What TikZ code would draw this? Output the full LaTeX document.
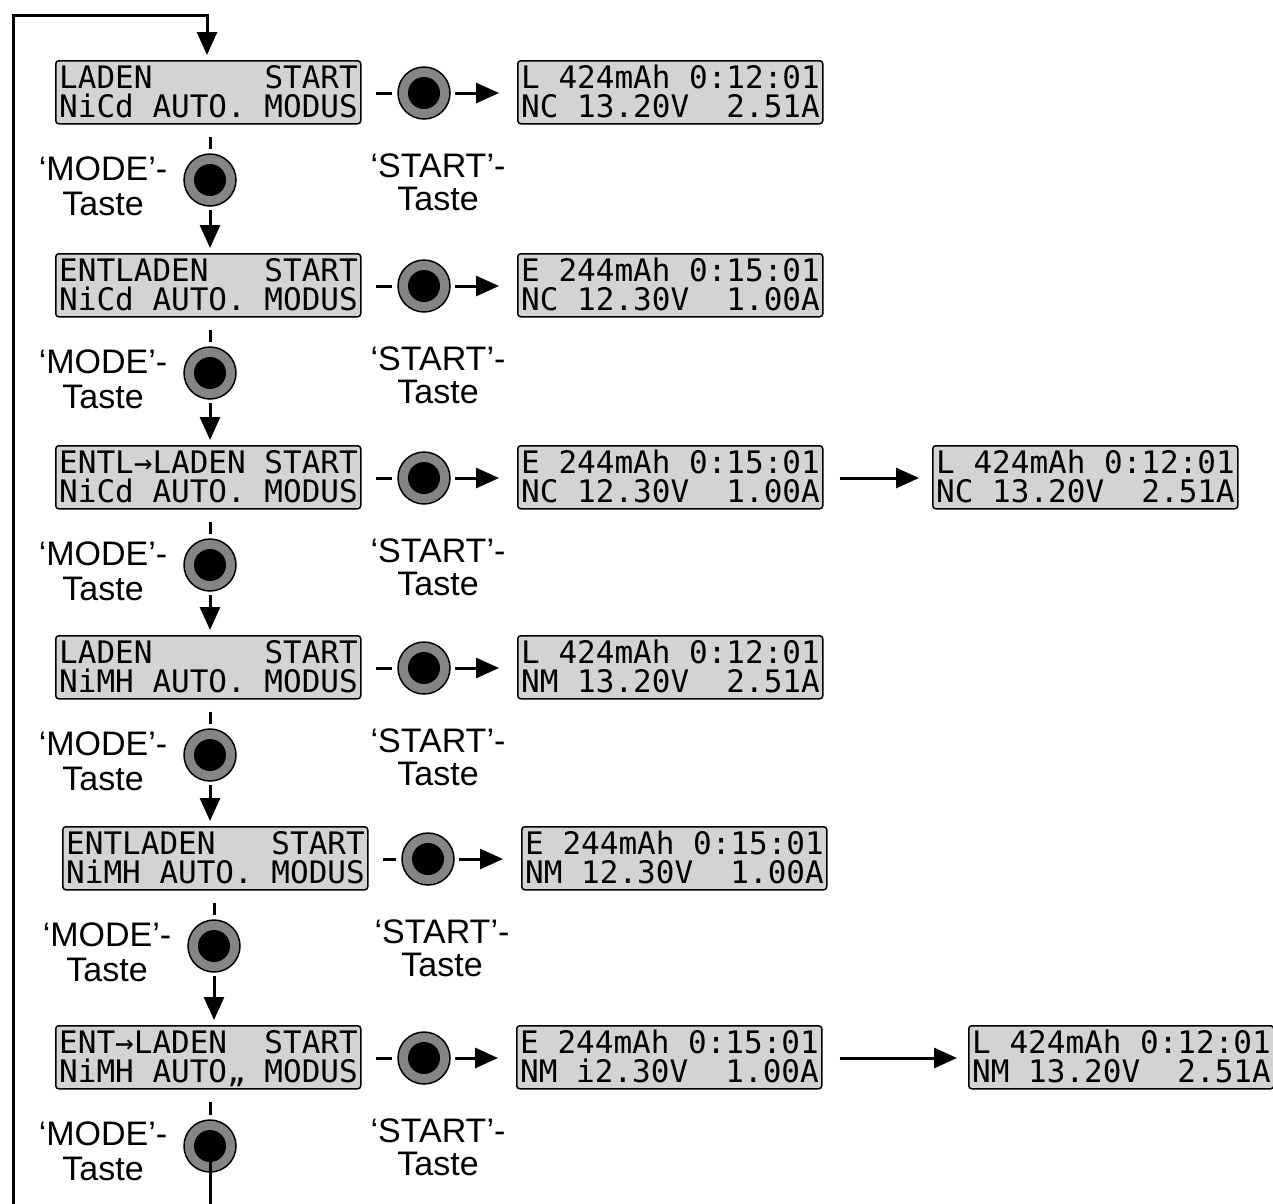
\documentclass[tikz,border=0pt]{standalone}
\usepackage{fontspec}
\setmainfont{Liberation Sans}
\newfontfamily\lcdfont{DejaVu Sans Mono}
\usetikzlibrary{arrows.meta,calc}
\definecolor{lcdgray}{HTML}{D3D3D3}
\definecolor{ringgray}{HTML}{858585}
\tikzset{
  lcd/.style={draw=black, line width=1.5pt, fill=lcdgray, rounded corners=3pt,
    minimum width=305pt, minimum height=63pt, anchor=north west, inner sep=0pt},
  lcdtxt/.style={font=\lcdfont\fontsize{31}{31}\selectfont, anchor=base west, inner sep=0pt},
  btnring/.style={circle, draw=black, line width=1.5pt, fill=ringgray, minimum size=52pt, inner sep=0pt},
  btncore/.style={circle, fill=black, minimum size=32pt, inner sep=0pt},
  conn/.style={line width=3pt},
  arr/.style={line width=3pt, -{Triangle[length=23pt,width=20pt]}},
  lbl/.style={font=\fontsize{34}{34}\selectfont, anchor=base, inner sep=0pt},
}
\newcommand\lcdbox[5]{%
  \node[lcd] (#1) at (#2,#3) {};
  \node[lcdtxt] (#1a) at ($(#1.north west)+(4,28)$) {#4};
  \node[lcdtxt] (#1b) at ($(#1.north west)+(4,57)$) {#5};}
\newcommand\knopf[3]{%
  \node[btnring] (#1) at (#2,#3) {};
  \node[btncore] (#1c) at (#1) {};}
\newcommand\modelbl[3]{%
  \node[lbl] (#1a) at (#2,#3+120) {‘MODE’-};
  \node[lbl] (#1b) at (#2,#3+155) {Taste};}
\newcommand\startlbl[3]{%
  \node[lbl] (#1a) at (#2,#3+117) {‘START’-};
  \node[lbl] (#1b) at (#2,#3+150) {Taste};}
\begin{document}
\begin{tikzpicture}[x=1pt,y=-1pt]
\useasboundingbox[fill=white] (0,0) rectangle (1273,1203);
% row 0
\lcdbox{L0}{55}{60}{LADEN~~~~~~START}{NiCd~AUTO.~MODUS}
\lcdbox{R0}{517}{60}{L~424mAh~0:12:01}{NC~13.20V~~2.51A}
\knopf{S0}{424}{93}
\knopf{M0}{210}{180}
\modelbl{ML0}{103}{60}
\startlbl{SL0}{438}{60}
% row 1
\lcdbox{L1}{55}{253}{ENTLADEN~~~START}{NiCd~AUTO.~MODUS}
\lcdbox{R1}{517}{253}{E~244mAh~0:15:01}{NC~12.30V~~1.00A}
\knopf{S1}{424}{286}
\knopf{M1}{210}{373}
\modelbl{ML1}{103}{253}
\startlbl{SL1}{438}{253}
% row 2
\lcdbox{L2}{55}{445}{ENTL→LADEN~START}{NiCd~AUTO.~MODUS}
\lcdbox{R2}{517}{445}{E~244mAh~0:15:01}{NC~12.30V~~1.00A}
\lcdbox{F2}{932}{445}{L~424mAh~0:12:01}{NC~13.20V~~2.51A}
\knopf{S2}{424}{478}
\knopf{M2}{210}{565}
\modelbl{ML2}{103}{445}
\startlbl{SL2}{438}{445}
% row 3
\lcdbox{L3}{55}{635}{LADEN~~~~~~START}{NiMH~AUTO.~MODUS}
\lcdbox{R3}{517}{635}{L~424mAh~0:12:01}{NM~13.20V~~2.51A}
\knopf{S3}{424}{668}
\knopf{M3}{210}{755}
\modelbl{ML3}{103}{635}
\startlbl{SL3}{438}{635}
% row 4
\lcdbox{L4}{62}{826}{ENTLADEN~~~START}{NiMH~AUTO.~MODUS}
\lcdbox{R4}{521}{826}{E~244mAh~0:15:01}{NM~12.30V~~1.00A}
\knopf{S4}{428}{859}
\knopf{M4}{214}{946}
\modelbl{ML4}{107}{826}
\startlbl{SL4}{442}{826}
% row 5
\lcdbox{L5}{55}{1025}{ENT→LADEN~~START}{NiMH~AUTO„~MODUS}
\lcdbox{R5}{516}{1025}{E~244mAh~0:15:01}{NM~i2.30V~~1.00A}
\lcdbox{F5}{968}{1025}{L~424mAh~0:12:01}{NM~13.20V~~2.51A}
\knopf{S5}{424}{1058}
\knopf{M5}{210}{1146}
\modelbl{ML5}{103}{1025}
\startlbl{SL5}{438}{1025}
% MODE connectors
\foreach \a/\b in {0/1,1/2,2/3,3/4,4/5}{
  \draw[conn] ($(L\a.south -| M\a)+(0,12)$) -- ($(M\a.north)+(0,-4)$);
  \draw[arr] ($(M\a.south)+(0,3)$) -- ($(L\b.north -| M\a)+(0,-5)$);
}
\draw[conn] ($(L5.south -| M5)+(0,12)$) -- ($(M5.north)+(0,-4)$);
% START connectors
\foreach \i in {0,...,5}{
  \draw[conn] ($(L\i.east |- S\i)+(14,0)$) -- ($(S\i.west)+(-5,0)$);
  \draw[arr] ($(S\i.east)+(4,0)$) -- ($(R\i.west |- S\i)+(-18,0)$);
}
\draw[arr] ($(R2.east |- S2)+(16,0)$) -- ($(F2.west |- S2)+(-13,0)$);
\draw[arr] ($(R5.east |- S5)+(17,0)$) -- ($(F5.west |- S5)+(-11,0)$);
% loop back
\coordinate (lpA) at (210,1240);
\coordinate (lpB) at (13,1240);
\coordinate (lpC) at (13,15);
\coordinate (lpD) at (207,15);
\draw[arr] (M5c.center) -- (lpA) -- (lpB) -- (lpC) -- (lpD) -- ($(L0.north -| lpD)+(0,-5)$);
\end{tikzpicture}
\end{document}
